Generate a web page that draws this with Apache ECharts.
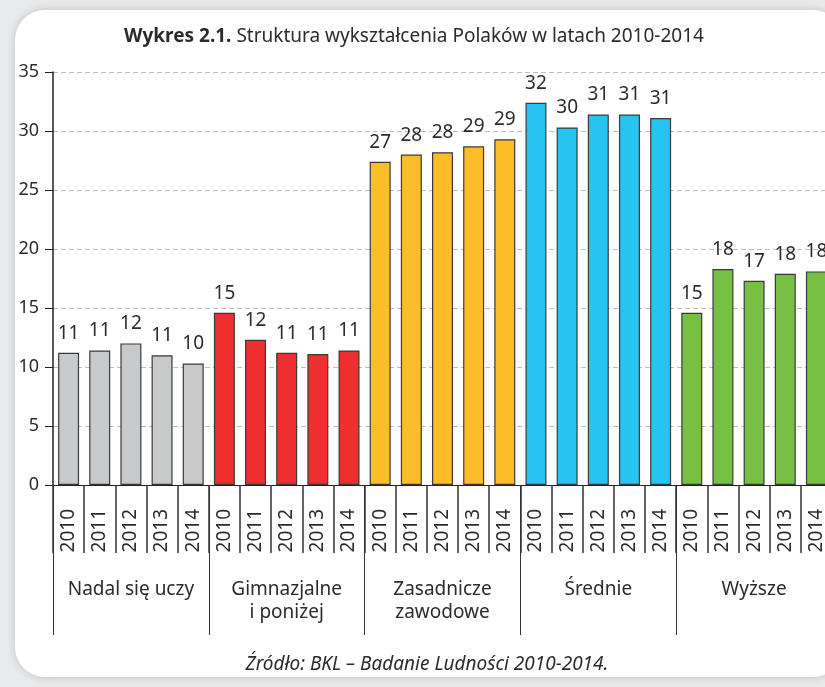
<!DOCTYPE html>
<html>
<head>
<meta charset="utf-8">
<script src="https://cdn.jsdelivr.net/npm/echarts@6/dist/echarts.min.js"></script>
<style>
  html, body { margin: 0; padding: 0; width: 825px; height: 687px; overflow: hidden; background: #e9eaeb; }
  #card { position: absolute; left: 15px; top: 10px; width: 828px; height: 667px; background: #fff;
          border-radius: 30px; box-shadow: 0 0 8px rgba(0,0,0,0.18); }
  #chart { position: absolute; left: 0; top: 0; width: 825px; height: 687px; }
</style>
</head>
<body>
<div id="card"></div>
<div id="chart"></div>
<script>
// dane
const years = ['2010', '2011', '2012', '2013', '2014']
const groups = ['Nadal się uczy', 'Gimnazjalne\ni poniżej', 'Zasadnicze\nzawodowe', 'Średnie', 'Wyższe']
const nadal = [11.2, 11.4, 12.0, 11.0, 10.3]
const gimnazjalne = [14.6, 12.3, 11.2, 11.1, 11.4]
const zasadnicze = [27.4, 28.0, 28.2, 28.7, 29.3]
const srednie = [32.4, 30.3, 31.4, 31.4, 31.1]
const wyzsze = [14.6, 18.3, 17.3, 17.9, 18.1]
const groupColors = ['#c8c9cb', '#ee2e2f', '#fdbd29', '#28c4f1', '#78c043']

const font = 'Noto Sans'
const textColor = '#2b2b2b'

// 25 kategorii: rok w każdej grupie
const allYears = []
const barData = []
;[nadal, gimnazjalne, zasadnicze, srednie, wyzsze].forEach((vals, g) => {
  vals.forEach((v, i) => {
    allYears.push(years[i])
    barData.push({ value: v, itemStyle: { color: groupColors[g] } })
  })
})

const mChart = echarts.init(document.getElementById('chart'))
const options = {
  backgroundColor: 'transparent',
  textStyle: { fontFamily: font },
  title: {
    text: '{b|Wykres 2.1.} Struktura wykształcenia Polaków w latach 2010-2014',
    left: 409,
    textAlign: 'center',
    top: 22,
    textStyle: {
      fontFamily: font, fontSize: 19, fontWeight: 'normal', color: textColor,
      rich: { b: { fontFamily: font, fontSize: 19, fontWeight: 'bold', color: textColor } }
    }
  },
  graphic: [{
    type: 'text',
    style: {
      text: 'Źródło: BKL – Badanie Ludności 2010-2014.',
      font: 'italic 19px "Noto Sans"',
      fill: textColor,
      x: 427,
      y: 665,
      align: 'center',
      verticalAlign: 'middle'
    }
  }],
  grid: { left: 53, top: 72, width: 779, height: 413, outerBoundsMode: 'none' },
  xAxis: [{
    type: 'category',
    data: allYears,
    position: 'bottom',
    axisLine: { show: true, lineStyle: { color: '#222', width: 1 } },
    axisTick: { show: true, interval: 0, length: 68, lineStyle: { color: '#333', width: 1.5 } },
    axisLabel: { rotate: 90, margin: 24, interval: 0, fontSize: 19, color: textColor, fontFamily: font }
  }, {
    type: 'category',
    data: groups,
    position: 'bottom',
    offset: 0,
    axisLine: { show: false },
    axisTick: { show: true, interval: 0, length: 150, lineStyle: { color: '#333', width: 1 } },
    axisLabel: { margin: 93, interval: 0, fontSize: 19, lineHeight: 23, color: textColor, fontFamily: font }
  }],
  yAxis: {
    type: 'value',
    min: 0,
    max: 35,
    interval: 5,
    axisLine: { show: true, lineStyle: { color: '#222', width: 1.5 } },
    axisTick: { show: true, length: 8, lineStyle: { color: '#222' } },
    axisLabel: { margin: 14, fontSize: 18, color: textColor, fontFamily: font },
    splitLine: { lineStyle: { color: '#bdbdbd', type: [5, 3], width: 1 } }
  },
  series: [{
    type: 'bar',
    xAxisIndex: 0,
    data: barData,
    barWidth: 21,
    itemStyle: { borderColor: '#3a3a3a', borderWidth: 1.2 },
    label: {
      show: true,
      position: 'top',
      distance: 10,
      fontSize: 19,
      color: textColor,
      fontFamily: font,
      formatter: p => Math.round(p.value)
    }
  }]
}
mChart.setOption(options)
</script>
</body>
</html>
